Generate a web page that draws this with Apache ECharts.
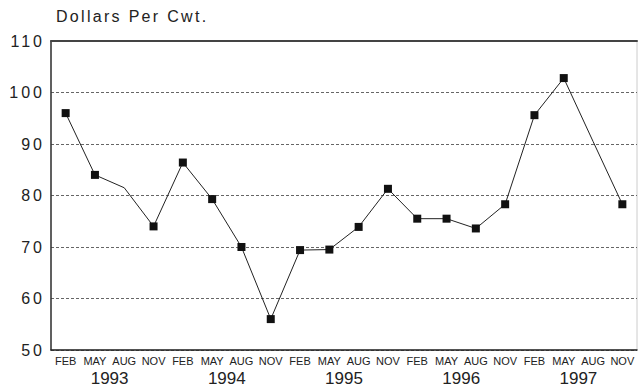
<!DOCTYPE html>
<html><head><meta charset="utf-8">
<script src="https://cdn.jsdelivr.net/npm/echarts@6/dist/echarts.min.js"></script>
<style>html,body{margin:0;padding:0;background:#fff}#c{width:638px;height:391px}</style>
</head><body><div id="c"></div>
<script>
var months = ['FEB','MAY','AUG','NOV','FEB','MAY','AUG','NOV','FEB','MAY','AUG','NOV','FEB','MAY','AUG','NOV','FEB','MAY','AUG','NOV'];
var years = ['1993','1994','1995','1996','1997'];
var prices = [96, 84, 81.5, 74, 86.4, 79.3, 70, 56, 69.4, 69.5, 73.9, 81.3, 75.5, 75.5, 73.6, 78.3, 95.6, 102.8, 90.5, 78.3];
var noMarker = [2, 18];
var yTicks = [50, 60, 70, 80, 90, 100, 110];
var titleText = 'Dollars Per Cwt.';

var seriesData = prices.map(function (v, i) {
  return noMarker.indexOf(i) >= 0 ? { value: v, symbol: 'none' } : v;
});

var FONT = 'Liberation Sans, Arial, sans-serif';
var chart = echarts.init(document.getElementById('c'), null, { renderer: 'svg' });
chart.setOption({
  animation: false,
  backgroundColor: '#fff',
  textStyle: { fontFamily: FONT },
  title: {
    text: titleText, left: 51, top: 3,
    textStyle: { fontSize: 16, fontWeight: 'normal', color: '#222', fontFamily: FONT }
  },
  grid: { left: 51, right: 1, top: 41, bottom: 41, show: true, borderColor: '#ccc', borderWidth: 1 },
  xAxis: [
    {
      type: 'category', data: months, position: 'bottom', boundaryGap: true,
      axisLine: { show: true, lineStyle: { color: '#222', width: 1.5 } },
      axisTick: { show: false },
      axisLabel: { interval: 0, fontSize: 11, color: '#222', margin: 5 }
    },
    {
      type: 'category', data: years, position: 'bottom', offset: 14, boundaryGap: true,
      axisLine: { show: false }, axisTick: { show: false },
      axisLabel: { interval: 0, fontSize: 17, color: '#222', margin: 6 }
    },
    {
      type: 'category', data: months, position: 'top', boundaryGap: true,
      axisLine: { show: true, lineStyle: { color: '#444', width: 2 } },
      axisTick: { show: false }, axisLabel: { show: false }
    }
  ],
  yAxis: {
    type: 'value', min: yTicks[0], max: yTicks[yTicks.length - 1], interval: 10,
    axisLine: { show: true, lineStyle: { color: '#333', width: 1.5 } },
    axisTick: { show: false },
    axisLabel: { fontSize: 16, color: '#222', margin: 6 },
    splitLine: { show: true, lineStyle: { color: '#666', type: [3, 2], width: 1 } }
  },
  series: [{
    type: 'line', xAxisIndex: 0, data: seriesData,
    symbol: 'rect', symbolSize: 8,
    lineStyle: { color: '#222', width: 1 },
    itemStyle: { color: '#111' }
  }]
});

// widen tracking of the title and value-axis labels, as in the reference
var tickStrs = yTicks.map(String);
Array.prototype.forEach.call(document.querySelectorAll('#c text'), function (t) {
  var s = t.textContent;
  if (tickStrs.indexOf(s) >= 0) t.style.letterSpacing = '3px';
  else if (s === titleText) t.style.letterSpacing = '2.3px';
});
</script></body></html>
